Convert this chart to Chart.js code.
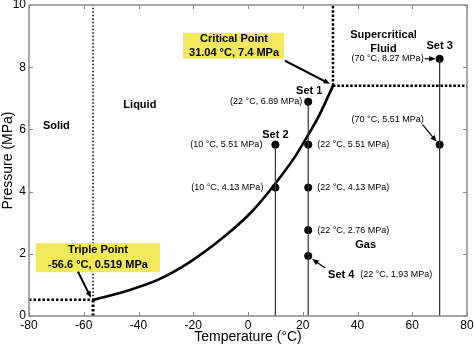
<!DOCTYPE html>
<html>
<head>
<meta charset="utf-8">
<script src="https://cdn.jsdelivr.net/npm/chart.js@4.4.1/dist/chart.umd.min.js"></script>
<style>
  html, body { margin: 0; padding: 0; background: #fff; }
  #wrap { width: 474px; height: 344px; }
</style>
</head>
<body>
<div id="wrap"><canvas id="phaseChart"></canvas></div>
<script>
// CO2 phase diagram - vapour pressure curve and the measurement sets

const curveTemps = [-56.6, -45, -33, -21, -9, 1, 9, 17, 22.5, 26, 31.04];
const curvePressures = [0.519, 0.79, 1.16, 1.75, 2.53, 3.32, 4.15, 5.1, 5.9, 6.45, 7.4];

const triplePoint = [-56.6, 0.519];
const criticalPoint = [31.04, 7.4];

// measured states (Set 1 column at 22 °C, Set 2 at 10 °C, Set 3 at 70 °C)
const setTemps = [22, 22, 22, 22, 22, 10, 10, 70, 70];
const setPressures = [6.89, 5.51, 4.13, 2.76, 1.93, 5.51, 4.13, 8.27, 5.51];

const stemTemps = [10, 22, 70];
const stemTops = [5.51, 6.89, 8.27];

const xTicks = [-80, -60, -40, -20, 0, 20, 40, 60, 80];
const yTicks = [0, 2, 4, 6, 8, 10];

const FONT = "Arial, 'Liberation Sans', Helvetica, sans-serif";
const xMin = xTicks[0], xMax = xTicks[xTicks.length - 1];
const yMin = yTicks[0], yMax = yTicks[yTicks.length - 1];

function seg(x1, y1, x2, y2) {
    return [{ x: x1, y: y1 }, { x: x2, y: y2 }];
}

function lineSet(data, width, dash, color) {
    return {
        data: data,
        showLine: true,
        borderColor: color || '#000',
        borderWidth: width,
        borderDash: dash || [],
        pointRadius: 0,
        fill: false
    };
}

const datasets = [];

// boundary lines through triple / critical points
datasets.push(lineSet(seg(triplePoint[0], triplePoint[1], triplePoint[0], yMax), 1.5, [1.5, 2]));
datasets.push(lineSet(seg(triplePoint[0], yMin, triplePoint[0], triplePoint[1]), 3, [2.5, 2]));
datasets.push(lineSet(seg(xMin, triplePoint[1], triplePoint[0], triplePoint[1]), 2.5, [2.5, 2]));
datasets.push(lineSet(seg(criticalPoint[0], criticalPoint[1], criticalPoint[0], yMax), 2.5, [2.5, 1.8]));
datasets.push(lineSet(seg(criticalPoint[0], criticalPoint[1], xMax, criticalPoint[1]), 2.5, [2.5, 1.8]));

// vertical stems of each set
stemTemps.forEach((t, i) => {
    datasets.push(lineSet(seg(t, yMin, t, stemTops[i]), 1.2, [], '#333'));
});

// saturation curve
datasets.push(Object.assign(lineSet(curveTemps.map((t, i) => ({ x: t, y: curvePressures[i] })), 2.6),
    { cubicInterpolationMode: 'monotone' }));

// measured points
datasets.push({
    data: setTemps.map((t, i) => ({ x: t, y: setPressures[i] })),
    pointRadius: 3.6,
    pointBackgroundColor: '#000',
    pointBorderColor: '#000',
    showLine: false
});

function arrow(ctx, x1, y1, x2, y2, w) {
    const ang = Math.atan2(y2 - y1, x2 - x1);
    const head = 7;
    ctx.save();
    ctx.strokeStyle = '#000';
    ctx.fillStyle = '#000';
    ctx.lineWidth = w || 1.2;
    ctx.beginPath();
    ctx.moveTo(x1, y1);
    ctx.lineTo(x2 - Math.cos(ang) * head * 0.8, y2 - Math.sin(ang) * head * 0.8);
    ctx.stroke();
    ctx.beginPath();
    ctx.moveTo(x2, y2);
    ctx.lineTo(x2 - head * Math.cos(ang - 0.4), y2 - head * Math.sin(ang - 0.4));
    ctx.lineTo(x2 - head * Math.cos(ang + 0.4), y2 - head * Math.sin(ang + 0.4));
    ctx.closePath();
    ctx.fill();
    ctx.restore();
}

function text(ctx, str, x, y, font, align) {
    ctx.font = font;
    ctx.textAlign = align || 'center';
    ctx.textBaseline = 'middle';
    ctx.fillStyle = '#000';
    ctx.fillText(str, x, y);
}

const fmtState = (t, p) => '(' + t + ' \u00b0C, ' + p + ' MPa)';

const decorations = {
    id: 'decorations',
    afterDraw(chart) {
        const { ctx, chartArea: a, scales: { x, y } } = chart;
        const px = v => x.getPixelForValue(v);
        const py = v => y.getPixelForValue(v);
        const bold = 'bold 11px ' + FONT;
        const small = '9px ' + FONT;

        // frame with inward ticks
        ctx.save();
        ctx.strokeStyle = '#8a8a8a';
        ctx.lineWidth = 1.5;
        ctx.strokeRect(a.left, a.top, a.right - a.left, a.bottom - a.top);
        ctx.lineWidth = 1;
        ctx.beginPath();
        xTicks.forEach(t => {
            const xx = Math.round(px(t)) + 0.5;
            ctx.moveTo(xx, a.bottom); ctx.lineTo(xx, a.bottom - 4);
            ctx.moveTo(xx, a.top); ctx.lineTo(xx, a.top + 4);
        });
        yTicks.forEach(t => {
            const yy = Math.round(py(t)) + 0.5;
            ctx.moveTo(a.left, yy); ctx.lineTo(a.left + 4, yy);
            ctx.moveTo(a.right, yy); ctx.lineTo(a.right - 4, yy);
        });
        ctx.stroke();
        ctx.restore();

        // axis titles
        text(ctx, 'Temperature (\u00b0C)', (a.left + a.right) / 2, 337, '14px ' + FONT);
        ctx.save();
        ctx.translate(8, (a.top + a.bottom) / 2);
        ctx.rotate(-Math.PI / 2);
        text(ctx, 'Pressure (MPa)', 0, 0, '14px ' + FONT);
        ctx.restore();

        // phase regions
        text(ctx, 'Solid', px(-70), py(6.1), bold);
        text(ctx, 'Liquid', px(-39.5), py(6.8), bold);
        text(ctx, 'Supercritical', px(49.5), py(9.04), bold);
        text(ctx, 'Fluid', px(49.5), py(8.58), bold);
        text(ctx, 'Gas', px(43), py(2.28), bold);

        // state labels next to each point
        const P = setTemps.map((t, i) => [px(t), py(setPressures[i])]);
        const lbl = i => fmtState(setTemps[i], setPressures[i]);
        text(ctx, lbl(0), P[0][0] - 6, P[0][1], small, 'right');
        text(ctx, lbl(1), P[1][0] + 9, P[1][1], small, 'left');
        text(ctx, lbl(2), P[2][0] + 9, P[2][1], small, 'left');
        text(ctx, lbl(3), P[3][0] + 9, P[3][1], small, 'left');
        text(ctx, lbl(4), P[4][0] + 52, P[4][1] + 19, small, 'left');
        text(ctx, lbl(5), P[5][0] - 13, P[5][1], small, 'right');
        text(ctx, lbl(6), P[6][0] - 12, P[6][1], small, 'right');
        text(ctx, lbl(7), P[7][0] - 16, P[7][1], small, 'right');
        text(ctx, lbl(8), P[8][0] - 52, P[8][1] - 25, small);

        arrow(ctx, P[7][0] - 15, P[7][1], P[7][0] - 4, P[7][1], 1.2);
        arrow(ctx, P[8][0] - 17, P[8][1] - 20, P[8][0] - 3, P[8][1] - 3, 1.2);
        arrow(ctx, P[4][0] + 17, P[4][1] + 12, P[4][0] + 4, P[4][1] + 3, 1.2);

        // set names
        text(ctx, 'Set 1', P[0][0] + 1, P[0][1] - 11, bold);
        text(ctx, 'Set 2', P[5][0], P[5][1] - 10, bold);
        text(ctx, 'Set 3', P[7][0], P[7][1] - 13, bold);
        text(ctx, 'Set 4', P[4][0] + 33, P[4][1] + 19, bold);

        // critical point callout
        const cx = px(criticalPoint[0]), cy = py(criticalPoint[1]);
        const cbx = px(-5.1), cby = py(8.69);
        ctx.fillStyle = '#f2e85c';
        ctx.fillRect(cbx - 51, cby - 13, 101, 26);
        text(ctx, 'Critical Point', cbx, cby - 7, bold);
        text(ctx, criticalPoint[0] + ' \u00b0C, ' + criticalPoint[1] + ' MPa', cbx, cby + 7, bold);
        arrow(ctx, cbx + 51, cby + 15, cx - 3, cy - 2, 2);

        // triple point callout
        const tx = px(triplePoint[0]), ty = py(triplePoint[1]);
        const tbx = px(-54.8), tby = py(1.875);
        ctx.fillStyle = '#f2e85c';
        ctx.fillRect(tbx - 62, tby - 14.5, 124, 29);
        text(ctx, 'Triple Point', tbx, tby - 7.5, bold);
        text(ctx, triplePoint[0] + ' \u00b0C, ' + triplePoint[1] + ' MPa', tbx, tby + 7, bold);
        arrow(ctx, tbx - 20, tby + 14, tx - 2, ty - 2, 2);
    }
};

new Chart(document.getElementById('phaseChart'), {
    type: 'scatter',
    data: { datasets: datasets },
    options: {
        responsive: true,
        maintainAspectRatio: false,
        animation: false,
        layout: { padding: { top: 4, right: 7, left: 0, bottom: 0 } },
        plugins: { legend: { display: false }, tooltip: { enabled: false } },
        scales: {
            x: {
                type: 'linear',
                min: xMin,
                max: xMax,
                afterBuildTicks: s => { s.ticks = xTicks.map(v => ({ value: v })); },
                afterFit: s => { s.height = 28; s.paddingLeft = 0; s.paddingRight = 0; },
                grid: { display: false, drawTicks: false },
                border: { display: false },
                ticks: { color: '#000', padding: 2, maxRotation: 0, autoSkip: false, font: { family: FONT, size: 12 } }
            },
            y: {
                type: 'linear',
                min: yMin,
                max: yMax,
                afterBuildTicks: s => { s.ticks = yTicks.map(v => ({ value: v })); },
                afterFit: s => { s.width = 29; s.paddingTop = 0; s.paddingBottom = 0; },
                grid: { display: false, drawTicks: false },
                border: { display: false },
                ticks: { color: '#000', padding: 3, autoSkip: false, font: { family: FONT, size: 12 } }
            }
        }
    },
    plugins: [decorations]
});
</script>
</body>
</html>
